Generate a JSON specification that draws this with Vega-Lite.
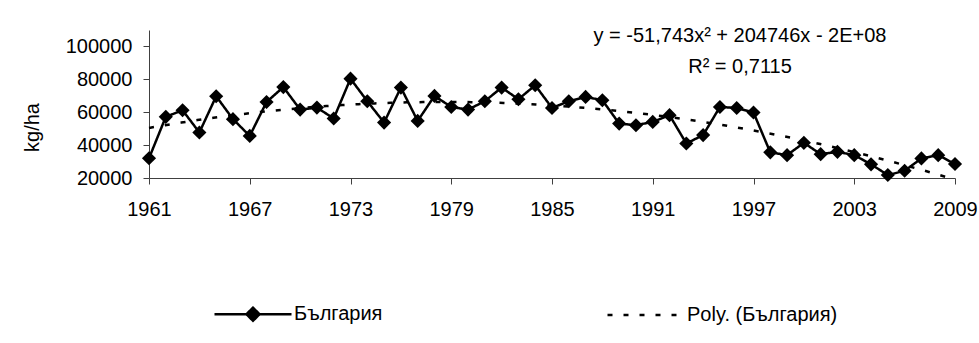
{
  "$schema": "https://vega.github.io/schema/vega-lite/v6.json",
  "width": 806,
  "height": 148,
  "autosize": {"type": "none"},
  "padding": {"left": 149, "top": 30, "right": 24, "bottom": 165},
  "background": "white",
  "config": {
    "view": {"stroke": null},
    "font": "Liberation Sans",
    "axis": {"grid": false, "domainColor": "#404040", "tickColor": "#404040", "tickSize": 6, "labelFont": "Liberation Sans", "labelFontSize": 20, "labelColor": "black", "titleFont": "Liberation Sans", "titleFontSize": 20, "titleFontWeight": "normal", "titleColor": "black"}
  },
  "title": {
    "text": ["y = -51,743x² + 204746x - 2E+08", "R² = 0,7115"],
    "frame": "group",
    "anchor": "middle",
    "dx": 188,
    "dy": 47,
    "font": "Liberation Sans",
    "fontSize": 20,
    "fontWeight": "normal",
    "color": "black",
    "lineHeight": 31,
    "baseline": "top",
    "offset": 0
  },
  "data": {"values": [
    {"year": 1961, "value": 32000}, {"year": 1962, "value": 57200}, {"year": 1963, "value": 61200},
    {"year": 1964, "value": 47700}, {"year": 1965, "value": 69700}, {"year": 1966, "value": 55800},
    {"year": 1967, "value": 45600}, {"year": 1968, "value": 66200}, {"year": 1969, "value": 75300},
    {"year": 1970, "value": 61600}, {"year": 1971, "value": 62800}, {"year": 1972, "value": 56200},
    {"year": 1973, "value": 80400}, {"year": 1974, "value": 66700}, {"year": 1975, "value": 53700},
    {"year": 1976, "value": 75000}, {"year": 1977, "value": 54700}, {"year": 1978, "value": 69900},
    {"year": 1979, "value": 63200}, {"year": 1980, "value": 61600}, {"year": 1981, "value": 66700},
    {"year": 1982, "value": 75000}, {"year": 1983, "value": 67900}, {"year": 1984, "value": 76400},
    {"year": 1985, "value": 62600}, {"year": 1986, "value": 66700}, {"year": 1987, "value": 69300},
    {"year": 1988, "value": 67300}, {"year": 1989, "value": 53100}, {"year": 1990, "value": 52100},
    {"year": 1991, "value": 54100}, {"year": 1992, "value": 58200}, {"year": 1993, "value": 41000},
    {"year": 1994, "value": 46100}, {"year": 1995, "value": 63200}, {"year": 1996, "value": 62600},
    {"year": 1997, "value": 59800}, {"year": 1998, "value": 35600}, {"year": 1999, "value": 33900},
    {"year": 2000, "value": 41400}, {"year": 2001, "value": 34500}, {"year": 2002, "value": 35900},
    {"year": 2003, "value": 33900}, {"year": 2004, "value": 28300}, {"year": 2005, "value": 21800},
    {"year": 2006, "value": 24400}, {"year": 2007, "value": 31900}, {"year": 2008, "value": 33900},
    {"year": 2009, "value": 28500}
  ]},
  "encoding": {
    "x": {
      "field": "year", "type": "quantitative",
      "scale": {"domain": [1961, 2009], "nice": false, "zero": false},
      "axis": {"title": null, "values": [1961, 1967, 1973, 1979, 1985, 1991, 1997, 2003, 2009], "format": "d", "labelPadding": 15, "labelFlush": false, "labelOverlap": false}
    },
    "y": {
      "field": "value", "type": "quantitative",
      "scale": {"domain": [20000, 110000], "nice": false, "zero": false},
      "axis": {"title": "kg/ha", "values": [20000, 40000, 60000, 80000, 100000], "format": "d", "labelPadding": 11, "titleX": -117, "titleY": 97, "titleAngle": 270, "titleAlign": "center", "titleBaseline": "middle"}
    }
  },
  "layer": [
    {
      "transform": [{"regression": "value", "on": "year", "method": "poly", "order": 2, "extent": [1961, 2009]}],
      "mark": {"type": "line", "color": "black", "strokeWidth": 2.5, "clip": false},
      "encoding": {
        "strokeDash": {
          "datum": "Poly. (България)", "type": "nominal",
          "scale": {"domain": ["България", "Poly. (България)"], "range": [[1, 0], [5, 11]]},
          "legend": {
            "orient": "none", "direction": "horizontal", "legendX": 64, "legendY": 244,
            "title": null, "padding": 0,
            "symbolSize": 5929, "symbolStrokeWidth": 2.5, "symbolStrokeColor": "black",
            "labelFont": "Liberation Sans", "labelFontSize": 20, "labelColor": "black",
            "labelOffset": 1, "columnPadding": 219,
            "encode": {"symbols": {"update": {
              "shape": {"signal": "datum.value === 'България' ? 'M-1,0H1M0,-0.17L0.17,0L0,0.17L-0.17,0Z' : 'M-1,0H1'"},
              "fill": {"value": "black"},
              "stroke": {"value": "black"}
            }}}
          }
        }
      }
    },
    {
      "mark": {"type": "line", "color": "black", "strokeWidth": 2.5, "clip": false},
      "encoding": {"strokeDash": {"datum": "България", "type": "nominal"}}
    },
    {
      "mark": {"type": "point", "shape": "diamond", "filled": true, "size": 200, "color": "black", "opacity": 1, "clip": false},
      "encoding": {}
    }
  ]
}
